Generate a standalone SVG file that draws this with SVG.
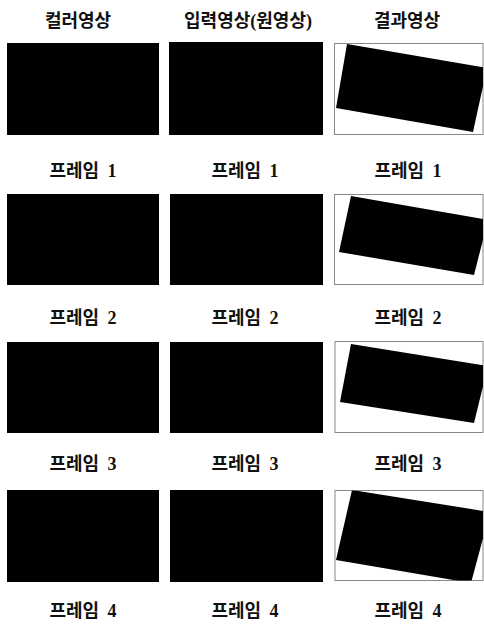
<svg xmlns="http://www.w3.org/2000/svg" width="484" height="625" viewBox="0 0 484 625">
<style>
.t{font-family:"Liberation Serif","Noto Sans CJK KR",serif;font-weight:bold;font-size:18px;fill:#111;text-anchor:middle}
.f{word-spacing:4px}
.img{fill:#000}
.frame{fill:#fff;stroke:#888;stroke-width:1}
</style>
<defs>
<clipPath id="c1"><rect x="334.5" y="43.5" width="148.5" height="91"/></clipPath>
<clipPath id="c2"><rect x="334.5" y="194.5" width="148.5" height="90"/></clipPath>
<clipPath id="c3"><rect x="335" y="341.5" width="148" height="91"/></clipPath>
<clipPath id="c4"><rect x="335" y="490.5" width="148" height="90"/></clipPath>
</defs>
<rect width="484" height="625" fill="#fff"/>
<g id="headers">
<text class="t" x="78" y="27">컬러영상</text>
<text class="t" x="248" y="27">입력영상(원영상)</text>
<text class="t" x="407" y="27">결과영상</text>
</g>
<g id="row1">
<rect class="img" x="7" y="43" width="152" height="92"/>
<rect class="img" x="169" y="42" width="154" height="93"/>
<rect class="frame" x="334.5" y="43.5" width="148.5" height="91"/>
<polygon class="img" clip-path="url(#c1)" points="347,44 487,68 473,132 336,108"/>
<text class="t f" x="83" y="177">프레임 1</text>
<text class="t f" x="245" y="177">프레임 1</text>
<text class="t f" x="408" y="177">프레임 1</text>
</g>
<g id="row2">
<rect class="img" x="7" y="194" width="152" height="91"/>
<rect class="img" x="170" y="194" width="153" height="91"/>
<rect class="frame" x="334.5" y="194.5" width="148.5" height="90"/>
<polygon class="img" clip-path="url(#c2)" points="351,196 488,220 474,275 339,252"/>
<text class="t f" x="83" y="324">프레임 2</text>
<text class="t f" x="245" y="324">프레임 2</text>
<text class="t f" x="408" y="324">프레임 2</text>
</g>
<g id="row3">
<rect class="img" x="7" y="342" width="152" height="91"/>
<rect class="img" x="170" y="342" width="153" height="91"/>
<rect class="frame" x="335" y="341.5" width="148" height="91"/>
<polygon class="img" clip-path="url(#c3)" points="351,344 488,366 474,423 340,402"/>
<text class="t f" x="83" y="470">프레임 3</text>
<text class="t f" x="245" y="470">프레임 3</text>
<text class="t f" x="408" y="470">프레임 3</text>
</g>
<g id="row4">
<rect class="img" x="7" y="490" width="152" height="92"/>
<rect class="img" x="170" y="490" width="153" height="92"/>
<rect class="frame" x="335" y="490.5" width="148" height="90"/>
<polygon class="img" clip-path="url(#c4)" points="352,490 490,512 471,583 336,560"/>
<text class="t f" x="83" y="617">프레임 4</text>
<text class="t f" x="245" y="617">프레임 4</text>
<text class="t f" x="408" y="617">프레임 4</text>
</g>
</svg>
